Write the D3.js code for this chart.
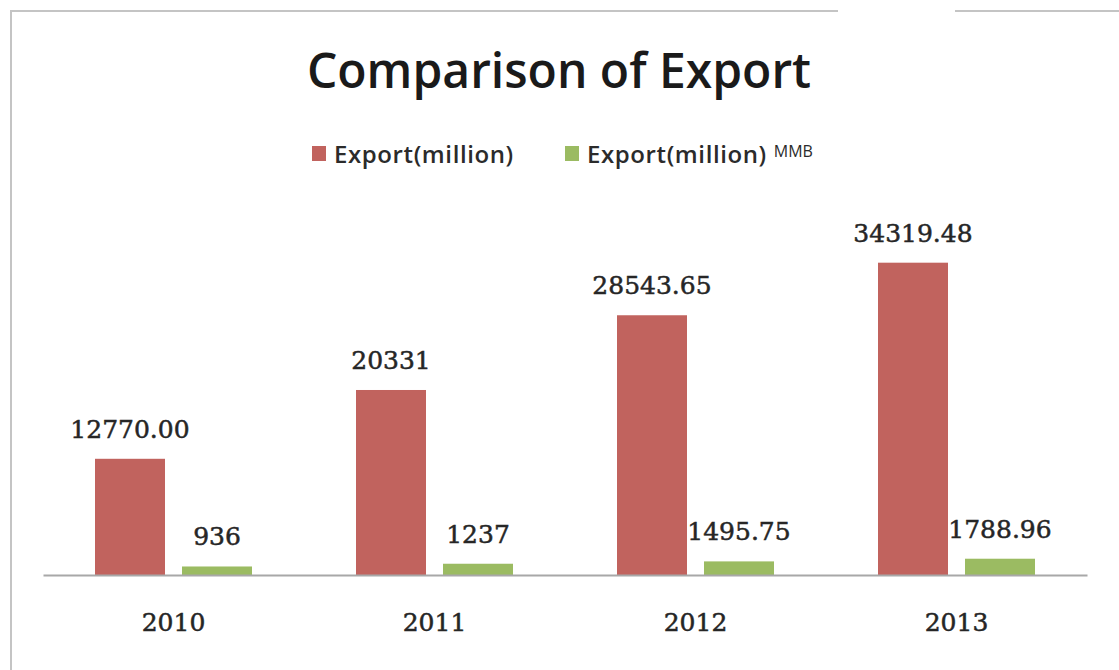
<!DOCTYPE html>
<html>
<head>
<meta charset="utf-8">
<script src="https://cdn.jsdelivr.net/npm/d3@7"></script>
<style>
  body { margin: 0; background: #fff; }
</style>
</head>
<body>
<script>
var years = ["2010", "2011", "2012", "2013"];
var exportTotal = [12770.00, 20331, 28543.65, 34319.48];
var exportMMB = [936, 1237, 1495.75, 1788.96];
var totalLabels = ["12770.00", "20331", "28543.65", "34319.48"];
var mmbLabels = ["936", "1237", "1495.75", "1788.96"];
var seriesNames = ["Export(million)", "Export(million)"];

var w = 1119, h = 670;
var red = "#c1635e", green = "#9bbb62";
var numFont = "'DejaVu Serif', serif";

var svg = d3.select("body").append("svg").attr("width", w).attr("height", h);

// frame (top line has a gap on the right)
svg.append("path")
    .attr("d", "M11,670 L11,11 L838,11 M955,11 L1119,11")
    .attr("fill", "none")
    .attr("stroke", "#c4c4c4")
    .attr("stroke-width", 2);

var x = d3.scaleBand().domain(years).range([43, 1087]).padding(0);
var y = d3.scaleLinear().domain([0, 50000]).range([575, 575 - 50000 * 0.0091]);

var barW = 70, gap = 17;
var offRed = (x.bandwidth() - (2 * barW + gap)) / 2;
var offGreen = offRed + barW + gap;

var data = years.map(function(d, i) {
  return { year: d, a: exportTotal[i], b: exportMMB[i], la: totalLabels[i], lb: mmbLabels[i] };
});

var g = svg.append("g");

g.selectAll("rect.a").data(data).enter().append("rect")
    .attr("class", "a")
    .attr("x", function(d) { return x(d.year) + offRed; })
    .attr("y", function(d) { return y(d.a); })
    .attr("width", barW)
    .attr("height", function(d) { return y(0) - y(d.a); })
    .attr("fill", red);

g.selectAll("rect.b").data(data).enter().append("rect")
    .attr("class", "b")
    .attr("x", function(d) { return x(d.year) + offGreen; })
    .attr("y", function(d) { return y(d.b); })
    .attr("width", barW)
    .attr("height", function(d) { return y(0) - y(d.b); })
    .attr("fill", green);

function numStyle(sel) {
  sel.style("font-family", numFont).style("font-size", "25px")
     .attr("fill", "#262626").attr("stroke", "#262626").attr("stroke-width", 0.5);
}

// value labels
g.selectAll("text.la").data(data).enter().append("text")
    .attr("x", function(d) { return x(d.year) + offRed + barW / 2; })
    .attr("y", function(d) { return y(d.a) - 21; })
    .attr("text-anchor", "middle")
    .call(numStyle)
    .text(function(d) { return d.la; });

g.selectAll("text.lb").data(data).enter().append("text")
    .attr("x", function(d) { return x(d.year) + offGreen + barW / 2; })
    .attr("y", function(d) { return y(d.b) - 21; })
    .attr("text-anchor", "middle")
    .call(numStyle)
    .text(function(d) { return d.lb; });

// axis
var xAxis = svg.append("g").attr("transform", "translate(0,575)")
    .call(d3.axisBottom(x).tickSize(0).tickPadding(38));
xAxis.select(".domain").attr("stroke", "#a8a8a8").attr("stroke-width", 2);
xAxis.selectAll("text").call(numStyle);

// title
svg.append("text")
    .attr("x", 559).attr("y", 88)
    .attr("text-anchor", "middle")
    .style("font-family", "'Open Sans', sans-serif").style("font-weight", 600)
    .style("font-size", "48px").attr("fill", "#1a1a1a")
    .text("Comparison of Export");

// legend
var leg = svg.append("g");
var legItems = [
  { name: seriesNames[0], color: red, x: 312 },
  { name: seriesNames[1], color: green, x: 565 }
];
legItems.forEach(function(d, i) {
  leg.append("rect").attr("x", d.x).attr("y", 146).attr("width", 14).attr("height", 15).attr("fill", d.color);
  var t = leg.append("text").attr("x", d.x + 22).attr("y", 163)
      .style("font-family", "'Open Sans', sans-serif").style("font-weight", 600)
      .style("font-size", "24px").style("letter-spacing", "0.6px").attr("fill", "#2b2b2b")
      .text(d.name);
  if (i === 1) {
    t.append("tspan").attr("dx", 7).attr("dy", -6)
        .style("font-size", "16px").style("font-weight", 400).style("letter-spacing", "0px")
        .text("MMB");
  }
});
</script>
</body>
</html>
